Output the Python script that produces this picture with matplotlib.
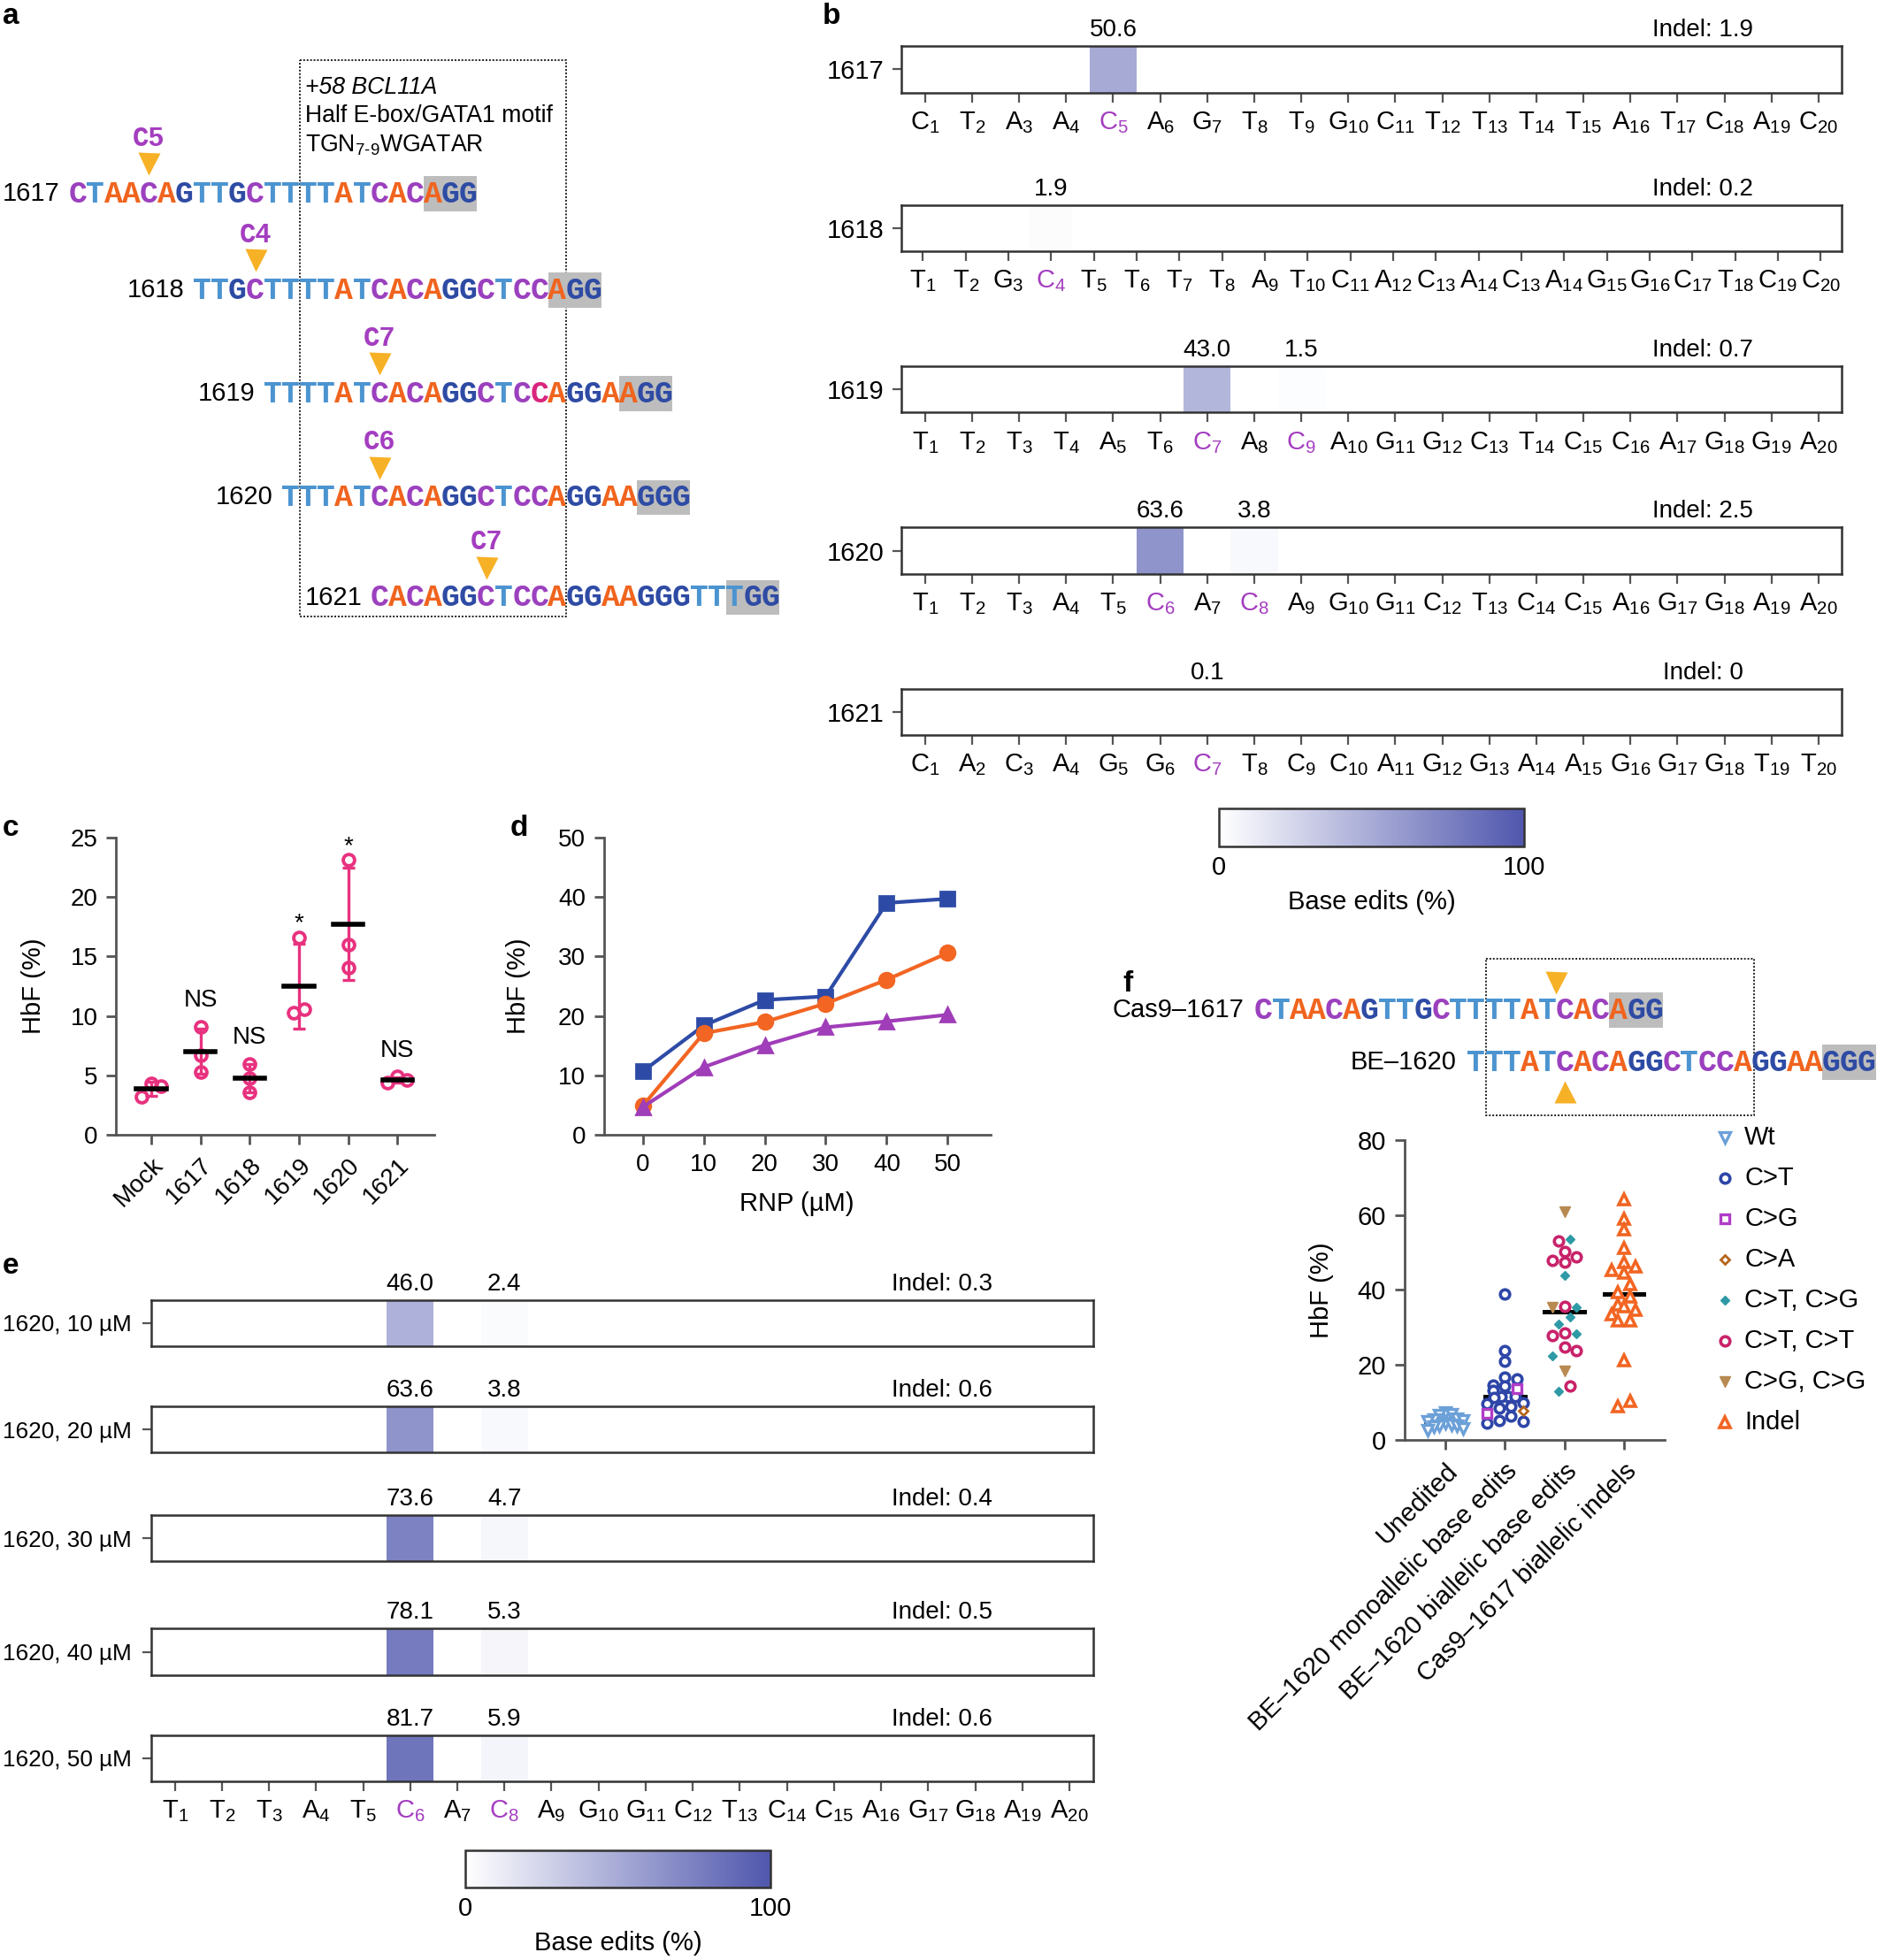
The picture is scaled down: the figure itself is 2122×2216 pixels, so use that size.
import numpy as np
import matplotlib.pyplot as plt
from matplotlib.colors import LinearSegmentedColormap, Normalize
from matplotlib.cm import ScalarMappable
from matplotlib.patches import Rectangle

plt.rcParams["font.family"] = ["Liberation Sans", "DejaVu Sans"]
plt.rcParams["mathtext.fontset"] = "custom"
plt.rcParams["mathtext.rm"] = "Liberation Sans"
plt.rcParams["mathtext.it"] = "Liberation Sans:italic"

# ---------- data ----------
ref_seq = "CTAACAGTTGCTTTTATCACAGGCTCCAGGAAGGGTTTGG"
guides = ["1617", "1618", "1619", "1620", "1621"]
protospacers = ["CTAACAGTTGCTTTTATCACAGG", "TTGCTTTTATCACAGGCTCCAGG",
                "TTTTATCACAGGCTCCAGGAAGG", "TTTATCACAGGCTCCAGGAAGGG",
                "CACAGGCTCCAGGAAGGGTTTGG"]
target_c = [5, 4, 7, 6, 7]

b_ticks = [
    "C1 T2 A3 A4 C5 A6 G7 T8 T9 G10 C11 T12 T13 T14 T15 A16 T17 C18 A19 C20",
    "T1 T2 G3 C4 T5 T6 T7 T8 A9 T10 C11 A12 C13 A14 C13 A14 G15 G16 C17 T18 C19 C20",
    "T1 T2 T3 T4 A5 T6 C7 A8 C9 A10 G11 G12 C13 T14 C15 C16 A17 G18 G19 A20",
    "T1 T2 T3 A4 T5 C6 A7 C8 A9 G10 G11 C12 T13 C14 C15 A16 G17 G18 A19 A20",
    "C1 A2 C3 A4 G5 G6 C7 T8 C9 C10 A11 G12 G13 A14 A15 G16 G17 G18 T19 T20",
]
b_edit_pos = [[5], [4], [7, 9], [6, 8], [7]]
b_edit_val = [[50.6], [1.9], [43.0, 1.5], [63.6, 3.8], [0.1]]
b_indel = [1.9, 0.2, 0.7, 2.5, 0]

e_doses = [10, 20, 30, 40, 50]
e_c6 = [46.0, 63.6, 73.6, 78.1, 81.7]
e_c8 = [2.4, 3.8, 4.7, 5.3, 5.9]
e_indel = [0.3, 0.6, 0.4, 0.5, 0.6]

c_groups = ["Mock", "1617", "1618", "1619", "1620", "1621"]
c_values = [[3.2, 4.3, 4.1], [9.1, 6.7, 5.3], [6.0, 4.8, 3.6],
            [16.6, 10.6, 10.25], [23.1, 16.0, 14.1], [4.9, 4.6, 4.4]]
c_sig = ["", "NS", "NS", "*", "*", "NS"]

rnp = [0, 10, 20, 30, 40, 50]
d_blue = [10.7, 18.4, 22.7, 23.3, 39.0, 39.7]
d_orange = [4.9, 17.1, 19.0, 22.1, 26.1, 30.6]
d_purple = [4.7, 11.4, 15.1, 18.1, 19.1, 20.2]

f_cats = ["Unedited", "BE\u20131620 monoallelic base edits",
          "BE\u20131620 biallelic base edits", "Cas9\u20131617 biallelic indels"]
unedited_wt = [7.3, 6.9, 6.6, 5.7, 5.5, 5.3, 4.9, 4.5, 4.1, 3.7, 3.7, 3.5, 3.2, 2.5]
mono_ct = [38.9, 23.8, 20.9, 16.8, 16.2, 14.6, 14.4, 13.2, 11.5, 11.5, 11.5,
           11.3, 9.9, 9.7, 9.0, 8.4, 6.3, 5.1, 4.9, 4.4]
mono_cg = [13.8, 7.0]
mono_ca = [7.7]
bi_ct_cg = [53.6, 43.9, 35.5, 32.9, 30.8, 28.4, 22.5, 13.1]
bi_ct_ct = [53.0, 50.3, 48.8, 48.0, 47.5, 35.7, 28.5, 27.9, 24.9, 23.8, 14.3]
bi_cg_cg = [60.9, 35.5, 18.5]
indels = [64.1, 59.0, 56.1, 51.2, 47.5, 46.2, 45.4, 44.7, 41.6, 39.4, 38.3,
          36.2, 35.6, 34.7, 33.4, 31.8, 31.8, 21.3, 10.5, 8.9]

# ---------- style ----------
NT = {"C": "#9B40BE", "T": "#4C94D0", "A": "#F0641E", "G": "#2E4BA4"}
HI = "#A43DC0"
ARROW = "#F7B126"
PINK = "#E8327F"
SPINE = "#555555"
cmap = LinearSegmentedColormap.from_list("be", ["#FFFFFF", "#5057AD"])

W, H = 1501, 1568          # layout grid (reference pixels / 1.414)
CW = 14.2                  # width of one nucleotide on the grid


def frac(x0, y0, x1, y1):
    return [x0 / W, 1 - y1 / H, (x1 - x0) / W, (y1 - y0) / H]


def sub(lbl):
    return r"$\mathregular{%s_{%s}}$" % (lbl[0], lbl[1:])


def spread(vals, step, gap, half=0.3):
    # prism-like rows: values closer than gap share a row and are spread sideways
    vals = np.asarray(vals, float)
    order = np.argsort(-vals, kind="stable")
    offs = np.zeros(len(vals))
    rows, cur = [], [order[0]]
    for i in order[1:]:
        if vals[cur[0]] - vals[i] < gap:
            cur.append(i)
        else:
            rows.append(cur)
            cur = [i]
    rows.append(cur)
    for r in rows:
        n = len(r)
        st = step if n < 2 else min(step, 2 * half / (n - 1))
        slots = (np.arange(n) - (n - 1) / 2) * st
        slots = sorted(slots, key=lambda s: (abs(s), -s))
        for i, s in zip(r, slots):
            offs[i] = s
    return offs


def tidy(ax):
    ax.spines["top"].set_visible(False)
    ax.spines["right"].set_visible(False)
    for s in ("left", "bottom"):
        ax.spines[s].set_color(SPINE)
        ax.spines[s].set_linewidth(1.0)
    ax.tick_params(direction="out", length=4, width=1.0, color=SPINE)


fig = plt.figure(figsize=(10.61, 11.08), dpi=200)

canvas = fig.add_axes([0, 0, 1, 1])
canvas.set_xlim(0, W)
canvas.set_ylim(H, 0)
canvas.axis("off")


def draw_seq(x0, y, seq, accent=None):
    for i, ch in enumerate(seq):
        col = NT[ch]
        if accent is not None and i == accent:
            col = "#D9257E"
        canvas.text(x0 + (i + 0.5) * CW, y + 7, ch, ha="center", va="baseline",
                    family="Liberation Mono", weight="bold", fontsize=12.5,
                    color=col, zorder=3)
    canvas.add_patch(Rectangle((x0 + (len(seq) - 3) * CW, y - 14), 3 * CW, 28,
                               facecolor="#BDBDBD", edgecolor="none", zorder=2))


# ================================================================
# a — protospacers
# ================================================================
row_y = [155, 232, 315, 398, 478]
seq_x0 = 55
for g, s, c, y in zip(guides, protospacers, target_c, row_y):
    x0 = seq_x0 + ref_seq.find(s) * CW
    draw_seq(x0, y, s, accent=15 if g == "1619" else None)
    canvas.text(x0 - 7, y, g, ha="right", va="center", fontsize=10.5)
    xc = x0 + (c - 0.5) * CW
    canvas.text(xc, y - 44, "C%d" % c, ha="center", va="center",
                family="Liberation Mono", weight="bold", fontsize=11, color=HI)
    canvas.plot(xc, y - 24, marker="v", ms=9, color=ARROW, mec="none")

canvas.add_patch(Rectangle((240, 48), 213, 445, fill=False, ls=(0, (1, 1)),
                           lw=0.7, edgecolor="#222222"))
canvas.text(244, 70, "+58 BCL11A", style="italic", fontsize=9.6, va="center")
canvas.text(244, 93, "Half E-box/GATA1 motif", fontsize=9.6, va="center")
canvas.text(244, 116, r"TGN$_{\mathregular{7\text{-}9}}$WGATAR", fontsize=9.6, va="center")

# ================================================================
# b / e — base editing heat strips
# ================================================================


def strip(rect, labels, pos, vals, indel, row_label, indel_x, show_x=True,
          lpad=3.5, lsize=10.5):
    n = len(labels)
    row = np.zeros(n)
    for p, v in zip(pos, vals):
        row[p - 1] = v
    ax = fig.add_axes(rect)
    ax.imshow(row[None, :], cmap=cmap, vmin=0, vmax=100, aspect="auto",
              extent=(-0.5, n - 0.5, -0.5, 0.5), interpolation="nearest")
    ax.set_xlim(-0.5, n - 0.5)
    ax.set_ylim(-0.5, 0.5)
    for s in ax.spines.values():
        s.set_color("#333333")
        s.set_linewidth(0.9)
    ax.set_yticks([0])
    ax.set_yticklabels([row_label], fontsize=lsize)
    ax.tick_params(axis="y", length=3.5, width=0.8, color=SPINE, pad=lpad)
    if show_x:
        ax.set_xticks(range(n))
        ax.set_xticklabels([sub(l) for l in labels], fontsize=10.5)
        ax.tick_params(axis="x", length=4, width=0.8, color=SPINE, pad=3)
        for p in pos:
            ax.get_xticklabels()[p - 1].set_color(HI)
    else:
        ax.set_xticks([])
    for p, v in zip(pos, vals):
        ax.annotate("%.1f" % v, xy=(p - 1, 1), xycoords=("data", "axes fraction"),
                    xytext=(0, 4), textcoords="offset points", ha="center",
                    va="baseline", fontsize=10)
    ax.annotate("Indel: %g" % indel, xy=(indel_x, 1), xycoords="axes fraction",
                xytext=(0, 4), textcoords="offset points", ha="center",
                va="baseline", fontsize=10)
    return ax


b_tops = [37, 164, 293, 422, 551]
for i, g in enumerate(guides):
    strip(frac(721, b_tops[i], 1473, b_tops[i] + 37), b_ticks[i].split(),
          b_edit_pos[i], b_edit_val[i], b_indel[i], g, 0.852)

e_tops = [1040, 1125, 1212, 1303, 1388]
e_labels = b_ticks[3].split()
for i, dose in enumerate(e_doses):
    strip(frac(121, e_tops[i], 874, e_tops[i] + 37), e_labels, [6, 8],
          [e_c6[i], e_c8[i]], e_indel[i], "1620, %d \u00b5M" % dose, 0.84,
          show_x=(i == len(e_doses) - 1), lpad=4.5, lsize=9.4)


def colorbar(rect):
    cax = fig.add_axes(rect)
    cb = fig.colorbar(ScalarMappable(norm=Normalize(0, 100), cmap=cmap), cax=cax,
                      orientation="horizontal", ticks=[0, 100])
    cb.outline.set_edgecolor("#333333")
    cb.outline.set_linewidth(0.9)
    cax.tick_params(length=0, pad=3.5, labelsize=10.5)
    cb.set_label("Base edits (%)", fontsize=10.5, labelpad=4)


colorbar(frac(975, 647, 1219, 677))
colorbar(frac(372, 1480, 616, 1510))

# ================================================================
# c — HbF per guide
# ================================================================
ax = fig.add_axes(frac(93, 670, 347, 908))
for i, vals in enumerate(c_values):
    vals = np.array(vals)
    xs = i + spread(vals, 0.2, 1.15)
    m, sd = vals.mean(), vals.std(ddof=1)
    ax.errorbar(i, m, yerr=sd, fmt="none", ecolor=PINK, elinewidth=1.2,
                capsize=2.6, capthick=1.2, zorder=2)
    ax.plot(xs, vals, "o", ms=4.6, mfc="none", mec=PINK, mew=1.4, zorder=3)
    ax.plot([i - 0.3, i + 0.3], [m, m], color="black", lw=2, zorder=4)
    if c_sig[i] == "NS":
        ax.annotate("NS", xy=(i, vals.max()), xytext=(0, 6), textcoords="offset points",
                    ha="center", va="bottom", fontsize=10)
    elif c_sig[i] == "*":
        ax.annotate("*", xy=(i, vals.max()), xytext=(0, 3), textcoords="offset points",
                    ha="center", va="baseline", fontsize=10)
ax.set_xlim(-0.71, 5.74)
ax.set_ylim(0, 25)
ax.set_yticks(range(0, 26, 5))
ax.set_xticks(range(len(c_groups)))
ax.set_xticklabels(c_groups, rotation=45, ha="right", rotation_mode="anchor")
ax.set_ylabel("HbF (%)", fontsize=10.5)
ax.yaxis.set_label_coords(-0.22, 0.5)
tidy(ax)
ax.tick_params(labelsize=10)

# ================================================================
# d — RNP dose
# ================================================================
ax = fig.add_axes(frac(483, 670, 792, 908))
ax.plot(rnp, d_blue, "-s", color="#2D4BA6", lw=1.5, ms=5.5, clip_on=False)
ax.plot(rnp, d_orange, "-o", color="#F26522", lw=1.5, ms=6, clip_on=False)
ax.plot(rnp, d_purple, "-^", color="#A03DB8", lw=1.5, ms=6, clip_on=False)
ax.set_xlim(-6.35, 57)
ax.set_ylim(0, 50)
ax.set_xticks(rnp)
ax.set_yticks(range(0, 51, 10))
ax.set_xlabel("RNP (\u00b5M)", fontsize=10.5)
ax.xaxis.set_label_coords(0.5, -0.19)
ax.set_ylabel("HbF (%)", fontsize=10.5)
ax.yaxis.set_label_coords(-0.19, 0.5)
tidy(ax)
ax.tick_params(labelsize=10)

# ================================================================
# f — HbF by genotype
# ================================================================
canvas.text(995, 808, "Cas9\u20131617", ha="right", va="center", fontsize=10.5)
draw_seq(1003, 808, protospacers[0])
be_x0 = 1003 + ref_seq.find(protospacers[3]) * CW
canvas.text(be_x0 - 9, 850, "BE\u20131620", ha="right", va="center", fontsize=10.5)
draw_seq(be_x0, 850, protospacers[3])
canvas.plot(1003 + 17 * CW, 786, marker="v", ms=9, color=ARROW, mec="none")
canvas.plot(be_x0 + (target_c[3] - 0.5) * CW, 873, marker="^", ms=9,
            color=ARROW, mec="none")
canvas.add_patch(Rectangle((1188, 767), 215, 125, fill=False, ls=(0, (1, 1)),
                           lw=0.7, edgecolor="#222222"))

styles = {
    "Wt": dict(marker="v", mfc="white", mec="#6CA0D8", ms=4.2, mew=1.2),
    "C>T": dict(marker="o", mfc="white", mec="#2E46A8", ms=3.8, mew=1.3),
    "C>G": dict(marker="s", mfc="white", mec="#B03CC8", ms=3.6, mew=1.2),
    "C>A": dict(marker="D", mfc="white", mec="#B5651D", ms=2.8, mew=1.0),
    "C>T, C>G": dict(marker="D", mfc="#2E9AA6", mec="#2E9AA6", ms=2.6, mew=0.5),
    "C>T, C>T": dict(marker="o", mfc="white", mec="#C8236A", ms=3.8, mew=1.3),
    "C>G, C>G": dict(marker="v", mfc="#B88A52", mec="#B88A52", ms=4.2, mew=0.5),
    "Indel": dict(marker="^", mfc="white", mec="#F26522", ms=4.2, mew=1.3),
}
f_groups = [
    [("Wt", unedited_wt)],
    [("C>T", mono_ct), ("C>G", mono_cg), ("C>A", mono_ca)],
    [("C>T, C>G", bi_ct_cg), ("C>T, C>T", bi_ct_ct), ("C>G, C>G", bi_cg_cg)],
    [("Indel", indels)],
]

ax = fig.add_axes(frac(1123, 912, 1331, 1152))
for i, grp in enumerate(f_groups):
    allv = np.concatenate([np.array(v, float) for _, v in grp])
    offs = spread(allv, 0.2, 2.4, half=0.3)
    med = np.median(allv)
    ax.plot([i - 0.33, i + 0.33], [med, med], color="black", lw=1.8, zorder=1)
    k = 0
    for name, v in grp:
        n = len(v)
        ax.plot(i + offs[k:k + n], v, ls="none", zorder=2, **styles[name])
        k += n
ax.set_xlim(-0.69, 3.68)
ax.set_ylim(0, 80)
ax.set_yticks(range(0, 81, 20))
ax.set_xticks(range(4))
ax.set_xticklabels(f_cats, rotation=45, ha="right", rotation_mode="anchor")
ax.set_ylabel("HbF (%)", fontsize=10.5)
ax.yaxis.set_label_coords(-0.27, 0.5)
tidy(ax)
ax.tick_params(labelsize=10.5)

leg_y = 910
for j, (name, st) in enumerate(styles.items()):
    y = leg_y + j * 32.5
    canvas.plot(1379, y, ls="none", **st)
    canvas.text(1395, y, name, va="center", fontsize=10.5)

# ---------- panel letters ----------
for lab, x, y in [("a", 2, 2), ("b", 658, 2), ("c", 2, 652), ("d", 408, 652),
                  ("e", 2, 1002), ("f", 898, 776)]:
    canvas.text(x, y, lab, weight="bold", fontsize=12, va="top", ha="left")

fig.savefig("out.png", dpi=200)
